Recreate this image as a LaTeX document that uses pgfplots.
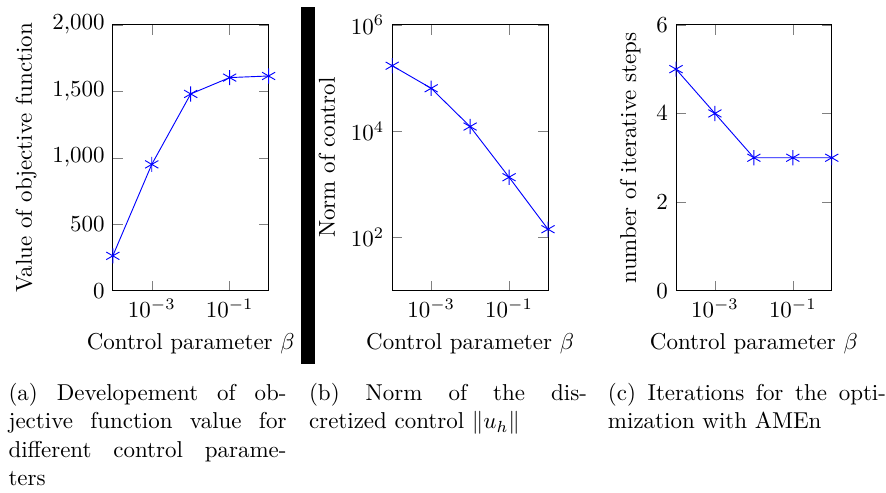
\documentclass[border=0pt]{standalone}
\usepackage{pgfplots}
\pgfplotsset{compat=1.18}
\begin{document}
\begin{tikzpicture}
\path (0pt,0pt) rectangle (385.2pt,214.3pt);
\pgfplotsset{
  every axis/.append style={
    scale only axis,
    width=67.8pt, height=115.7pt,
    xmode=log, xmin=1e-4, xmax=1,
    xtick={1e-3,1e-1},
    xlabel={Control parameter $\beta$},
    anchor=south west,
  },
}
\begin{axis}[at={(49.1pt,87.8pt)},
  ymin=0, ymax=2000, ytick={0,500,1000,1500,2000},
  ylabel={Value of objective function}]
\addplot[blue, mark=asterisk, mark size=3.3pt] coordinates {
(1e-4,262) (1e-3,950) (1e-2,1480) (1e-1,1603) (1,1615)};
\end{axis}
\begin{axis}[at={(170.7pt,87.8pt)},
  ymode=log, ymin=10, ymax=1e6, ytick={1e2,1e4,1e6},
  ylabel={Norm of control}]
\addplot[blue, mark=asterisk, mark size=3.3pt] coordinates {
(1e-4,1.7e5) (1e-3,6.4e4) (1e-2,1.22e4) (1e-1,1.36e3) (1,143)};
\end{axis}
\begin{axis}[at={(294.2pt,87.8pt)},
  ymin=0, ymax=6, ytick={0,2,4,6},
  ylabel={number of iterative steps}]
\addplot[blue, mark=asterisk, mark size=3.3pt] coordinates {
(1e-4,5) (1e-3,4) (1e-2,3) (1e-1,3) (1,3)};
\end{axis}
\fill[black] (130.9pt,55.7pt) rectangle (137.0pt,211.3pt);
\tikzset{mycap/.style={anchor=north west, inner sep=0pt, text width=121pt, align=justify,
  font=\fontsize{10pt}{12.4pt}\selectfont}}
\node[mycap] at (3.5pt,47.8pt)
  {(a) Developement of ob-\linebreak jective function value for\linebreak different control parame-\linebreak ters\par};
\node[mycap] at (134.3pt,47.8pt)
  {(b) Norm of the dis-\linebreak cretized control $\|u_h\|$\par};
\node[mycap] at (264.4pt,47.8pt)
  {(c) Iterations for the opti-\linebreak mization with AMEn\par};
\end{tikzpicture}
\end{document}
